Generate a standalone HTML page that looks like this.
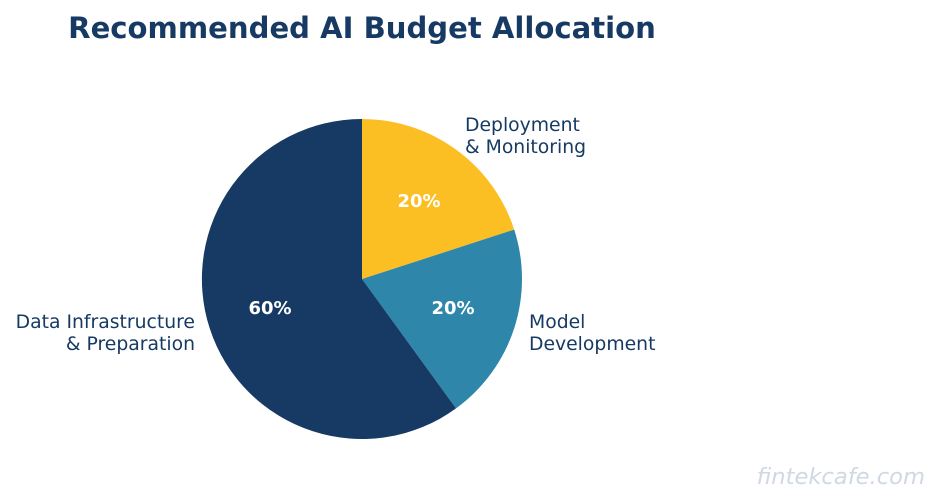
<!DOCTYPE html>
<html><head><meta charset="utf-8"><style>
html,body{margin:0;padding:0;background:#fff;}
svg{display:block;}
</style></head><body>
<svg width="941" height="504" viewBox="0 0 941 504" xmlns="http://www.w3.org/2000/svg" font-family="'DejaVu Sans', 'Liberation Sans', sans-serif">
<rect width="941" height="504" fill="#fff"/>
<text x="362" y="38" text-anchor="middle" font-size="29.1" font-weight="bold" fill="#163a63">Recommended AI Budget Allocation</text>
<path d="M362,279 L362,119 A160,160 0 0 1 514.2,229.6 Z" fill="#fbbf24"/>
<path d="M362,279 L514.2,229.6 A160,160 0 0 1 456,408.4 Z" fill="#2e86ab"/>
<path d="M362,279 L456,408.4 A160,160 0 1 1 362,119 Z" fill="#163a63"/>
<g font-size="18" font-weight="bold" fill="#fff" text-anchor="middle">
<text x="419" y="207">20%</text>
<text x="453" y="314">20%</text>
<text x="270" y="314">60%</text>
</g>
<g font-size="18.8" fill="#163a63">
<text x="465" y="131">Deployment</text>
<text x="465" y="153">&amp; Monitoring</text>
<text x="529" y="328">Model</text>
<text x="529" y="350">Development</text>
<text x="195" y="328" text-anchor="end">Data Infrastructure</text>
<text x="195" y="350" text-anchor="end">&amp; Preparation</text>
</g>
<text x="925" y="484" text-anchor="end" font-size="22.6" font-style="italic" fill="#cfd8e3">fintekcafe.com</text>
</svg>
</body></html>
